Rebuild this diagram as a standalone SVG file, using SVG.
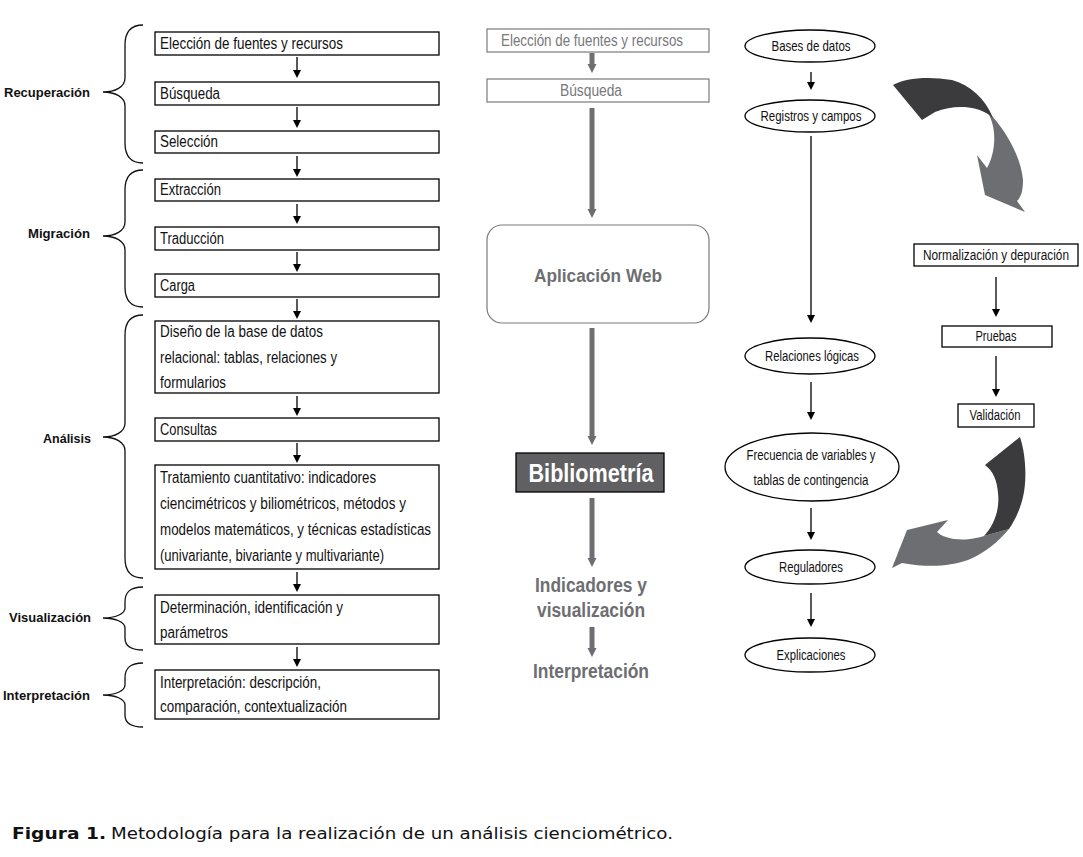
<svg xmlns="http://www.w3.org/2000/svg" width="1083" height="857" viewBox="0 0 1083 857">
<style>
.bx{fill:#fff;stroke:#000;stroke-width:1.3}
.t{font-family:"Liberation Sans",Arial,sans-serif;font-size:16px;fill:#111}
.lb{font-family:"Liberation Sans",Arial,sans-serif;font-size:13.5px;font-weight:bold;fill:#111;text-anchor:end}
.br{fill:none;stroke:#111;stroke-width:1.3}
.ar{stroke:#000;stroke-width:1.3;fill:none;marker-end:url(#ah)}
.gar{stroke:#6d6e71;stroke-width:5;fill:none;marker-end:url(#gh)}
.gbx{fill:#fff;stroke:#7a7a7c;stroke-width:1.2}
.gt{font-family:"Liberation Sans",Arial,sans-serif;font-size:16px;fill:#77787b;text-anchor:middle}
.gbt{font-family:"Liberation Sans",Arial,sans-serif;font-weight:bold;fill:#6d6e71;text-anchor:middle}
.el{fill:#fff;stroke:#000;stroke-width:1.3}
.rt{font-family:"Liberation Sans",Arial,sans-serif;font-size:14px;fill:#111;text-anchor:middle}
</style>
<defs>
<marker id="ah" markerUnits="userSpaceOnUse" viewBox="0 0 10 10" refX="0" refY="5" markerWidth="8" markerHeight="8" orient="auto"><path d="M0,0 L10,5 L0,10 z" fill="#000"/></marker>
<marker id="gh" markerUnits="userSpaceOnUse" viewBox="0 0 10 10" refX="0" refY="5" markerWidth="9" markerHeight="11" orient="auto"><path d="M0,0 L10,5 L0,10 z" fill="#6d6e71"/></marker>
</defs>
<rect width="1083" height="857" fill="#fff"/>

<g id="braces">
<path class="br" d="M143,25 C130,25 125,32 125,45 L125,78 C125,87 115,92 103,92 C115,92 125,97 125,106 L125,143 C125,156 130,163 143,163"/>
<path class="br" d="M143,170 C130,170 125,177 125,190 L125,222 C125,231 115,236 103,236 C115,236 125,241 125,250 L125,287 C125,300 130,307 143,307"/>
<path class="br" d="M143,315 C130,315 125,322 125,335 L125,423 C125,432 115,437 103,437 C115,437 125,442 125,451 L125,558 C125,571 130,578 143,578"/>
<path class="br" d="M143,587 C130,587 125,592 125,602 L125,608 C125,614 115,618 103,618 C115,618 125,622 125,628 L125,638 C125,646 130,650 143,650"/>
<path class="br" d="M143,663 C130,663 125,668 125,678 L125,685 C125,691 115,695 103,695 C115,695 125,699 125,705 L125,715 C125,723 130,727 143,727"/>
<text class="lb" x="90" y="97" textLength="86" lengthAdjust="spacingAndGlyphs">Recuperación</text>
<text class="lb" x="90" y="238" textLength="62" lengthAdjust="spacingAndGlyphs">Migración</text>
<text class="lb" x="91" y="443" textLength="48" lengthAdjust="spacingAndGlyphs">Análisis</text>
<text class="lb" x="91" y="622" textLength="82" lengthAdjust="spacingAndGlyphs">Visualización</text>
<text class="lb" x="90" y="700" textLength="87" lengthAdjust="spacingAndGlyphs">Interpretación</text>
</g>

<g id="left-nodes">
<g id="n1"><rect class="bx" x="155" y="32" width="284" height="23"/><text class="t" x="160" y="49" textLength="183" lengthAdjust="spacingAndGlyphs">Elección de fuentes y recursos</text></g>
<g id="n2"><rect class="bx" x="155" y="82" width="284" height="23"/><text class="t" x="160" y="99" textLength="60" lengthAdjust="spacingAndGlyphs">Búsqueda</text></g>
<g id="n3"><rect class="bx" x="155" y="131" width="284" height="22"/><text class="t" x="160" y="147" textLength="58" lengthAdjust="spacingAndGlyphs">Selección</text></g>
<g id="n4"><rect class="bx" x="155" y="179" width="284" height="22"/><text class="t" x="160" y="195" textLength="61" lengthAdjust="spacingAndGlyphs">Extracción</text></g>
<g id="n5"><rect class="bx" x="155" y="227" width="284" height="23"/><text class="t" x="160" y="244" textLength="64" lengthAdjust="spacingAndGlyphs">Traducción</text></g>
<g id="n6"><rect class="bx" x="155" y="274" width="284" height="23"/><text class="t" x="160" y="291" textLength="35" lengthAdjust="spacingAndGlyphs">Carga</text></g>
<g id="n7"><rect class="bx" x="155" y="321" width="284" height="72"/>
<text class="t" x="160" y="337" textLength="163" lengthAdjust="spacingAndGlyphs">Diseño de la base de datos</text>
<text class="t" x="160" y="363" textLength="177" lengthAdjust="spacingAndGlyphs">relacional: tablas, relaciones y</text>
<text class="t" x="160" y="388" textLength="66" lengthAdjust="spacingAndGlyphs">formularios</text></g>
<g id="n8"><rect class="bx" x="155" y="418" width="284" height="23"/><text class="t" x="160" y="435" textLength="57" lengthAdjust="spacingAndGlyphs">Consultas</text></g>
<g id="n9"><rect class="bx" x="155" y="465" width="284" height="104"/>
<text class="t" x="160" y="483" textLength="216" lengthAdjust="spacingAndGlyphs">Tratamiento cuantitativo: indicadores</text>
<text class="t" x="160" y="509" textLength="246" lengthAdjust="spacingAndGlyphs">ciencimétricos y biliométricos, métodos y</text>
<text class="t" x="160" y="535" textLength="271" lengthAdjust="spacingAndGlyphs">modelos matemáticos, y técnicas estadísticas</text>
<text class="t" x="160" y="561" textLength="224" lengthAdjust="spacingAndGlyphs">(univariante, bivariante y multivariante)</text></g>
<g id="n10"><rect class="bx" x="155" y="595" width="284" height="49"/>
<text class="t" x="160" y="613" textLength="183" lengthAdjust="spacingAndGlyphs">Determinación, identificación y</text>
<text class="t" x="160" y="638" textLength="68" lengthAdjust="spacingAndGlyphs">parámetros</text></g>
<g id="n11"><rect class="bx" x="155" y="670" width="284" height="49"/>
<text class="t" x="160" y="688" textLength="161" lengthAdjust="spacingAndGlyphs">Interpretación: descripción,</text>
<text class="t" x="160" y="712" textLength="187" lengthAdjust="spacingAndGlyphs">comparación, contextualización</text></g>
</g>

<g id="middle-nodes">
<g id="m1"><rect class="gbx" x="487" y="29" width="222" height="23"/><text class="gt" x="592" y="46" textLength="182" lengthAdjust="spacingAndGlyphs">Elección de fuentes y recursos</text></g>
<g id="m2"><rect class="gbx" x="487" y="79" width="222" height="23"/><text class="gt" x="591" y="96" textLength="62" lengthAdjust="spacingAndGlyphs">Búsqueda</text></g>
<g id="m3"><rect class="gbx" x="487" y="225" width="222" height="98" rx="15" ry="15"/><text class="gbt" x="598" y="282" font-size="19" textLength="128" lengthAdjust="spacingAndGlyphs">Aplicación Web</text></g>
<g id="m4"><rect x="516" y="453" width="148" height="39" fill="#606062" stroke="#000" stroke-width="1.3"/><text x="591" y="482" font-family="Liberation Sans, Arial, sans-serif" font-weight="bold" font-size="26" fill="#fff" text-anchor="middle" textLength="125" lengthAdjust="spacingAndGlyphs">Bibliometría</text></g>
<g id="m5"><text class="gbt" x="591" y="592" font-size="20" textLength="112" lengthAdjust="spacingAndGlyphs">Indicadores y</text><text class="gbt" x="591" y="617" font-size="20" textLength="108" lengthAdjust="spacingAndGlyphs">visualización</text></g>
<g id="m6"><text class="gbt" x="591" y="678" font-size="20" textLength="116" lengthAdjust="spacingAndGlyphs">Interpretación</text></g>
</g>

<g id="right-nodes">
<g id="r1"><ellipse class="el" cx="810" cy="46" rx="65" ry="16"/><text class="rt" x="811" y="51" textLength="79" lengthAdjust="spacingAndGlyphs">Bases de datos</text></g>
<g id="r2"><ellipse class="el" cx="810" cy="116" rx="65" ry="16"/><text class="rt" x="811" y="121" textLength="101" lengthAdjust="spacingAndGlyphs">Registros y campos</text></g>
<g id="r3"><ellipse class="el" cx="810" cy="356" rx="65" ry="18"/><text class="rt" x="812" y="361" textLength="94" lengthAdjust="spacingAndGlyphs">Relaciones lógicas</text></g>
<g id="r4"><ellipse class="el" cx="812" cy="467" rx="87" ry="34"/><text class="rt" x="811" y="460" textLength="129" lengthAdjust="spacingAndGlyphs">Frecuencia de variables y</text><text class="rt" x="811" y="485" textLength="115" lengthAdjust="spacingAndGlyphs">tablas de contingencia</text></g>
<g id="r5"><ellipse class="el" cx="810" cy="567" rx="65" ry="17"/><text class="rt" x="811" y="572" textLength="64" lengthAdjust="spacingAndGlyphs">Reguladores</text></g>
<g id="r6"><ellipse class="el" cx="810" cy="655" rx="65" ry="17"/><text class="rt" x="811" y="660" textLength="69" lengthAdjust="spacingAndGlyphs">Explicaciones</text></g>
<g id="r7"><rect class="bx" x="914" y="244" width="164" height="22"/><text class="rt" x="996" y="260" font-size="12" textLength="146" lengthAdjust="spacingAndGlyphs">Normalización y depuración</text></g>
<g id="r8"><rect class="bx" x="942" y="326" width="110" height="21"/><text class="rt" x="996" y="341" textLength="41" lengthAdjust="spacingAndGlyphs">Pruebas</text></g>
<g id="r9"><rect class="bx" x="958" y="404" width="76" height="23"/><text class="rt" x="995" y="420" textLength="51" lengthAdjust="spacingAndGlyphs">Validación</text></g>
</g>

<g id="connectors">
<line class="ar" x1="297" y1="57" x2="297" y2="70"/>
<line class="ar" x1="297" y1="107" x2="297" y2="120"/>
<line class="ar" x1="297" y1="156" x2="297" y2="169"/>
<line class="ar" x1="297" y1="204" x2="297" y2="216"/>
<line class="ar" x1="297" y1="252" x2="297" y2="264"/>
<line class="ar" x1="297" y1="299" x2="297" y2="311"/>
<line class="ar" x1="297" y1="396" x2="297" y2="408"/>
<line class="ar" x1="297" y1="443" x2="297" y2="455"/>
<line class="ar" x1="297" y1="572" x2="297" y2="584"/>
<line class="ar" x1="297" y1="647" x2="297" y2="659"/>

<line class="gar" x1="592" y1="53" x2="592" y2="64"/>
<line class="gar" x1="592" y1="108" x2="592" y2="209"/>
<line class="gar" x1="592" y1="328" x2="592" y2="436"/>
<line class="gar" x1="592" y1="498" x2="592" y2="558"/>
<line class="gar" x1="592" y1="627" x2="592" y2="648"/>

<line class="ar" x1="811" y1="72" x2="811" y2="82"/>
<line class="ar" x1="811" y1="136" x2="811" y2="315"/>
<line class="ar" x1="811" y1="382" x2="811" y2="412"/>
<line class="ar" x1="811" y1="508" x2="811" y2="532"/>
<line class="ar" x1="811" y1="593" x2="811" y2="619"/>
<line class="ar" x1="996" y1="277" x2="996" y2="309"/>
<line class="ar" x1="996" y1="356" x2="996" y2="389"/>

<g id="curved-top">
<path d="M992,116 C1008,134 1021,158 1023,180 C1023,191 1021,197 1017,201 L1025,212 L985,195 L977,155 L987,168 C996,152 997,128 988,113 Z" fill="#6d6e71"/>
<path d="M893,85 C905,78 928,76 952,80 C970,85 985,98 993,118 L988,114 C975,106 955,104 935,112 L922,120 Z" fill="#3b3b3d"/>
</g>
<g id="curved-bottom">
<path d="M1009,529 C998,542 985,553 968,560 C950,566 930,568 902,563 L892,568 L907,530 L948,520 L937,532 C942,537 955,541 970,539 C977,538 981,537 984,536 Z" fill="#6d6e71"/>
<path d="M985,465 L1020,437 C1026,455 1027,480 1023,497 C1020,510 1015,520 1009,529 L984,536 C994,525 1000,510 998,493 C997,480 993,471 985,465 Z" fill="#3b3b3d"/>
</g>
</g>

<g id="caption">
<text x="12" y="839" font-family="DejaVu Sans, Verdana, sans-serif" font-size="16" font-weight="bold" fill="#111" textLength="94" lengthAdjust="spacingAndGlyphs">Figura 1.</text>
<text x="111" y="839" font-family="DejaVu Sans, Verdana, sans-serif" font-size="16" fill="#111" textLength="562" lengthAdjust="spacingAndGlyphs">Metodología para la realización de un análisis cienciométrico.</text>
</g>
</svg>
